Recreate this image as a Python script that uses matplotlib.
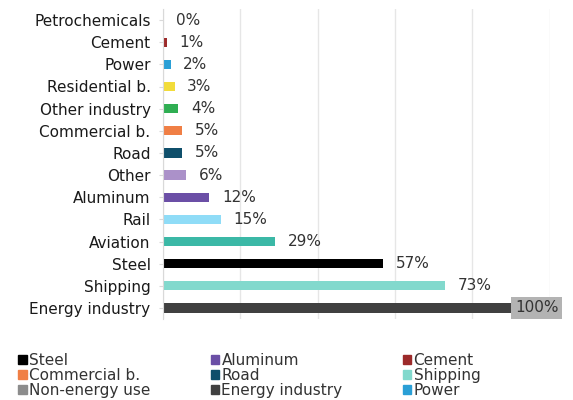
import matplotlib.pyplot as plt
from matplotlib.patches import Patch

plt.rcParams['font.family'] = ['DejaVu Sans']

# sectors, top to bottom
sectores = ['Petrochemicals', 'Cement', 'Power', 'Residential b.', 'Other industry',
            'Commercial b.', 'Road', 'Other', 'Aluminum', 'Rail', 'Aviation',
            'Steel', 'Shipping', 'Energy industry']
valores = [0, 1, 2, 3, 4, 5, 5, 6, 12, 15, 29, 57, 73, 100]
colores = ['#7f7f7f', '#9c2a2a', '#2a9fd6', '#f2dc3a', '#2fae52', '#f07f45',
           '#0f4f6b', '#ab91c9', '#6b4fa6', '#8fdcf7', '#3bb8a6', '#000000',
           '#82d9cd', '#404040']

# legend entries, row by row
leyenda = ['Steel', 'Aluminum', 'Cement', 'Commercial b.', 'Road', 'Shipping',
           'Non-energy use', 'Energy industry', 'Power']
leyenda_col = ['#000000', '#6b4fa6', '#9c2a2a', '#f07f45', '#0f4f6b', '#82d9cd',
               '#8c8c8c', '#404040', '#2a9fd6']

fig = plt.figure(figsize=(5.73, 4.0), dpi=100)
ax = fig.add_axes([0.2845, 0.2025, 0.675, 0.775])

pos = list(range(len(sectores)))[::-1]
ax.barh(pos, valores, height=0.42, color=colores, zorder=2)

for p, v in zip(pos, valores):
    txt = str(v) + '%'
    if v == 100:
        ax.annotate(txt, (v, p), xytext=(-25, 0), textcoords='offset points',
                    va='center', ha='left', fontsize=11, color='#333333',
                    bbox=dict(boxstyle='square,pad=0.25', fc='#b3b3b3', ec='none'),
                    annotation_clip=False, zorder=3)
    else:
        ax.annotate(txt, (v, p), xytext=(9, 0), textcoords='offset points',
                    va='center', ha='left', fontsize=11, color='#333333')

ax.set_yticks(pos)
ax.set_yticklabels(sectores, fontsize=11, color='#1a1a1a')
ax.set_ylim(-0.5, len(sectores) - 0.5)
ax.set_xlim(0, 100)
ax.set_xticks([0, 20, 40, 60, 80, 100])
ax.tick_params(axis='x', length=0, labelbottom=False)
ax.tick_params(axis='y', length=3, color='#d9d9d9', pad=6)
ax.grid(axis='x', color='#e6e6e6', linewidth=1, zorder=0)
for s in ['top', 'right', 'bottom']:
    ax.spines[s].set_visible(False)
ax.spines['left'].set_color('#d9d9d9')

# legend fills by column, so reorder the row-wise lists
orden = [0, 3, 6, 1, 4, 7, 2, 5, 8]
handles = [Patch(color=leyenda_col[i]) for i in orden]
etiquetas = [leyenda[i] for i in orden]
leg = fig.legend(handles, etiquetas, loc='lower left', bbox_to_anchor=(0.008, -0.03),
                 ncol=3, frameon=False, fontsize=11, handlelength=0.55, handleheight=0.55,
                 handletextpad=0.15, columnspacing=3.95, labelspacing=0.0)
for t in leg.get_texts():
    t.set_color('#333333')

plt.savefig('out.png', dpi=100)
